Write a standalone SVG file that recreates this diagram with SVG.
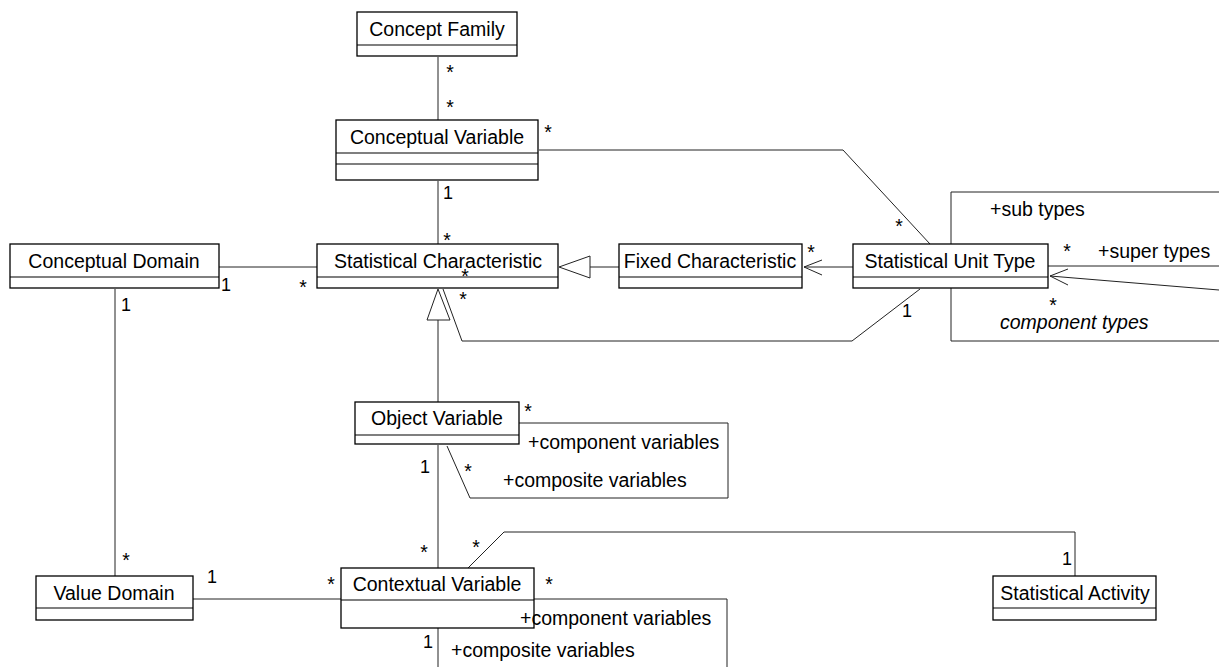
<svg xmlns="http://www.w3.org/2000/svg" width="1219" height="667" viewBox="0 0 1219 667">
<style>
.box{fill:#fff;stroke:#000;stroke-width:1.3}
.dv{stroke:#000;stroke-width:1.2}
.ln{fill:none;stroke:#222;stroke-width:1}
.gen{fill:#fff;stroke:#222;stroke-width:1}
.t{font-family:"Liberation Sans",Arial,sans-serif;font-size:19.5px;fill:#000}
.c{text-anchor:middle}
.m{font-family:"Liberation Sans",Arial,sans-serif;font-size:19.5px;fill:#000;text-anchor:middle}
.o{font-family:"Liberation Sans",Arial,sans-serif;font-size:18px;fill:#000}
.i{font-style:italic}
</style>
<rect width="1219" height="667" fill="#fff"/>
<g id="connectors">
<path class="ln" d="M438 57 V120"/>
<path class="ln" d="M438 181 V244"/>
<path class="ln" d="M539 150 H843 L930 244"/>
<path class="ln" d="M219 267 H317"/>
<path class="ln" d="M619 267 H590"/>
<polygon class="gen" points="559,267 590,256 590,278"/>
<path class="ln" d="M853 267 H804"/>
<path class="ln" d="M822 260 L804 267 L822 275"/>
<path class="ln" d="M443 289 L462 341 H852 L920 289"/>
<path class="ln" d="M438 402 V320"/>
<polygon class="gen" points="438,289 427,320 450,320"/>
<path class="ln" d="M115 289 V576"/>
<path class="ln" d="M519 423 H728 V498 H470 L447 446"/>
<path class="ln" d="M438 445 V568"/>
<path class="ln" d="M193 599 H341"/>
<path class="ln" d="M468 568 L504 532 H1075 V576"/>
<path class="ln" d="M534 599 H727 V667"/>
<path class="ln" d="M438 628 V667"/>
<path class="ln" d="M951 245 V192 H1219"/>
<path class="ln" d="M1048 266 H1219"/>
<path class="ln" d="M1050 276 L1219 290"/>
<path class="ln" d="M1068 269 L1050 276 L1068 285"/>
<path class="ln" d="M951 288 V341 H1219"/>
</g>
<g id="concept-family">
<rect class="box" x="357" y="12" width="160" height="44"/>
<line class="dv" x1="357" y1="45" x2="517" y2="45"/>
<text class="t c" x="437" y="36">Concept Family</text>
</g>
<g id="conceptual-variable">
<rect class="box" x="336" y="120" width="202" height="60"/>
<line class="dv" x1="336" y1="153" x2="538" y2="153"/>
<line class="dv" x1="336" y1="164" x2="538" y2="164"/>
<text class="t c" x="437" y="144">Conceptual Variable</text>
</g>
<g id="statistical-characteristic">
<rect class="box" x="317" y="244" width="241" height="44"/>
<line class="dv" x1="317" y1="277" x2="558" y2="277"/>
<text class="t c" x="438" y="268">Statistical Characteristic</text>
</g>
<g id="fixed-characteristic">
<rect class="box" x="619" y="244" width="183" height="44"/>
<line class="dv" x1="619" y1="277" x2="802" y2="277"/>
<text class="t c" x="710" y="268">Fixed Characteristic</text>
</g>
<g id="statistical-unit-type">
<rect class="box" x="853" y="244" width="195" height="44"/>
<line class="dv" x1="853" y1="277" x2="1048" y2="277"/>
<text class="t c" x="950" y="268">Statistical Unit Type</text>
</g>
<g id="conceptual-domain">
<rect class="box" x="10" y="244" width="209" height="44"/>
<line class="dv" x1="10" y1="277" x2="219" y2="277"/>
<text class="t c" x="114" y="268">Conceptual Domain</text>
</g>
<g id="object-variable">
<rect class="box" x="355" y="402" width="164" height="42"/>
<line class="dv" x1="355" y1="435" x2="519" y2="435"/>
<text class="t c" x="437" y="425">Object Variable</text>
</g>
<g id="value-domain">
<rect class="box" x="36" y="576" width="157" height="44"/>
<line class="dv" x1="36" y1="608" x2="193" y2="608"/>
<text class="t c" x="114" y="600">Value Domain</text>
</g>
<g id="contextual-variable">
<rect class="box" x="341" y="568" width="193" height="60"/>
<line class="dv" x1="341" y1="600" x2="534" y2="600"/>
<text class="t c" x="437" y="591">Contextual Variable</text>
</g>
<g id="statistical-activity">
<rect class="box" x="993" y="576" width="163" height="44"/>
<line class="dv" x1="993" y1="608" x2="1156" y2="608"/>
<text class="t c" x="1075" y="600">Statistical Activity</text>
</g>
<g id="labels">
<text class="m" x="450" y="79">*</text>
<text class="m" x="450" y="114">*</text>
<text class="m" x="548" y="139">*</text>
<text class="m" x="447" y="247">*</text>
<text class="m" x="465" y="283">*</text>
<text class="m" x="463" y="306">*</text>
<text class="m" x="303" y="294">*</text>
<text class="m" x="811" y="259">*</text>
<text class="m" x="899" y="233">*</text>
<text class="m" x="1067" y="258">*</text>
<text class="m" x="1053" y="312">*</text>
<text class="m" x="528" y="418">*</text>
<text class="m" x="468" y="478">*</text>
<text class="m" x="126" y="567">*</text>
<text class="m" x="331" y="591">*</text>
<text class="m" x="424" y="559">*</text>
<text class="m" x="476" y="554">*</text>
<text class="m" x="549" y="591">*</text>
<text class="o" x="443" y="199">1</text>
<text class="o" x="221" y="291">1</text>
<text class="o" x="121" y="311">1</text>
<text class="o" x="902" y="317">1</text>
<text class="o" x="420" y="473">1</text>
<text class="o" x="207" y="583">1</text>
<text class="o" x="423" y="648">1</text>
<text class="o" x="1062" y="565">1</text>
<text class="t" x="990" y="216">+sub types</text>
<text class="t" x="1098" y="258">+super types</text>
<text class="t i" x="1000" y="329">component types</text>
<text class="t" x="528" y="449">+component variables</text>
<text class="t" x="503" y="487">+composite variables</text>
<text class="t" x="520" y="625">+component variables</text>
<text class="t" x="451" y="657">+composite variables</text>
</g>
</svg>
